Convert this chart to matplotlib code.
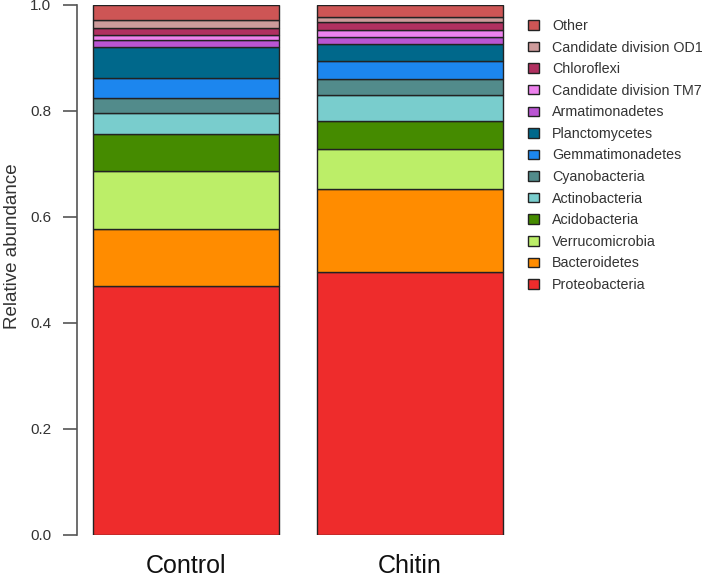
import numpy as np
import matplotlib
matplotlib.use('Agg')
import matplotlib.pyplot as plt
from matplotlib.patches import Patch

plt.rcParams['font.family'] = ['Liberation Sans', 'DejaVu Sans']

# samples and phyla (bottom to top of the stack)
samples = ['Control', 'Chitin']
phyla = ['Proteobacteria', 'Bacteroidetes', 'Verrucomicrobia', 'Acidobacteria',
         'Actinobacteria', 'Cyanobacteria', 'Gemmatimonadetes', 'Planctomycetes',
         'Armatimonadetes', 'Candidate division TM7', 'Chloroflexi',
         'Candidate division OD1', 'Other']

control = [0.470, 0.107, 0.110, 0.070, 0.039, 0.029, 0.037, 0.058,
           0.014, 0.010, 0.013, 0.015, 0.028]
chitin = [0.497, 0.156, 0.076, 0.053, 0.049, 0.029, 0.034, 0.032,
          0.014, 0.013, 0.015, 0.010, 0.022]

colors = ['#EE2C2C', '#FF8C00', '#BCEE68', '#458B00', '#79CDCD', '#528B8B',
          '#1C86EE', '#00688B', '#BA55D3', '#EE82EE', '#B03060', '#CD9B9B',
          '#CD5555']

data = np.array([control, chitin])

fig = plt.figure(figsize=(7.08, 5.79), dpi=100)
# plot region in pixels: x 77..519, y 5..535 (from top)
ax = fig.add_axes([77/708, 44/579, 442/708, 530/579])

# R-style barplot positions (space = 0.2, width = 1)
x = np.array([0.7, 1.9])
bottom = np.zeros(len(samples))
for i, name in enumerate(phyla):
    ax.bar(x, data[:, i], width=1.0, bottom=bottom, color=colors[i],
           edgecolor='#222222', linewidth=1.0, label=name)
    bottom += data[:, i]

ax.set_xlim(0.112, 2.488)
ax.set_ylim(0, 1)

for s in ['top', 'right', 'bottom']:
    ax.spines[s].set_visible(False)
ax.spines['left'].set_color('#555555')
ax.spines['left'].set_linewidth(1.2)
ax.spines['left'].set_bounds(0, 1)

ax.set_yticks([0, 0.2, 0.4, 0.6, 0.8, 1.0])
ax.set_yticklabels(['0.0', '0.2', '0.4', '0.6', '0.8', '1.0'])
ax.tick_params(axis='y', length=10, width=1.2, color='#555555', labelsize=11,
               labelcolor='#333333', pad=8.5)
ax.set_xticks(x)
ax.set_xticklabels(samples, fontsize=18)
ax.tick_params(axis='x', length=0, pad=14, labelcolor='#111111')

ax.set_ylabel('Relative abundance', fontsize=13.5, color='#333333')
ax.yaxis.set_label_coords(-0.127, 0.545)

handles = [Patch(facecolor=colors[i], edgecolor='#222222', linewidth=1.0)
           for i in range(len(phyla))][::-1]
leg = ax.legend(handles, phyla[::-1], loc='upper left',
                bbox_to_anchor=(528/708, 560/579), bbox_transform=fig.transFigure,
                frameon=False, fontsize=10.3, handlelength=0.8, handleheight=0.65,
                handletextpad=0.9, labelspacing=0.53, borderpad=0, borderaxespad=0)
for t in leg.get_texts():
    t.set_color('#333333')

fig.savefig('out.png', dpi=100)
